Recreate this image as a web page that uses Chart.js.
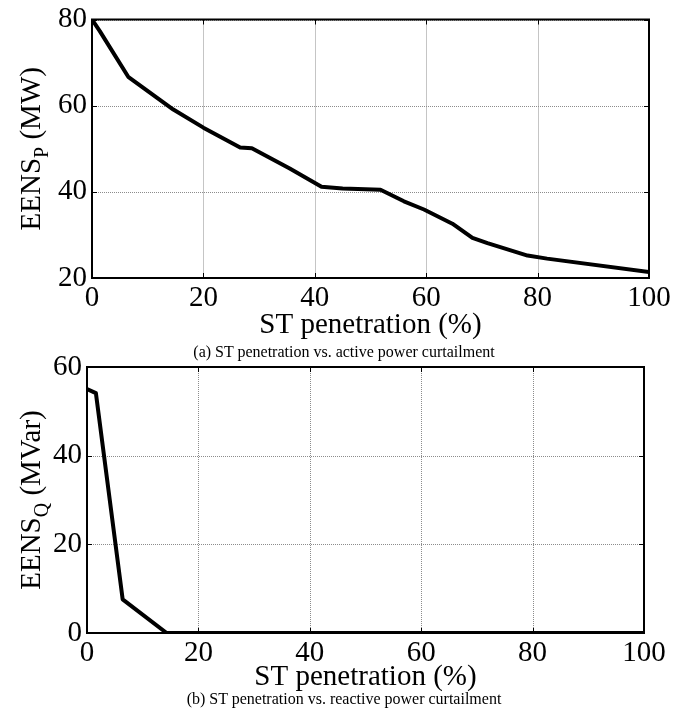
<!DOCTYPE html>
<html>
<head>
<meta charset="utf-8">
<script src="https://cdn.jsdelivr.net/npm/chart.js@4"></script>
<style>
  body { margin: 0; background: #fff; width: 688px; height: 713px; position: relative; overflow: hidden; font-family: "Liberation Serif", "Times New Roman", serif; }
  .box { position: absolute; left: 0; width: 688px; }
  .cap { position: absolute; left: 0; width: 688px; text-align: center; font-size: 16px; line-height: 16px; color: #000; }
</style>
</head>
<body>
<div class="box" style="top:0;height:340px"><canvas id="chartP"></canvas></div>
<div class="box" style="top:340px;height:373px"><canvas id="chartQ"></canvas></div>
<div class="cap" style="top:344px">(a) ST penetration vs. active power curtailment</div>
<div class="cap" style="top:691px">(b) ST penetration vs. reactive power curtailment</div>
<script>
// values
var penetrationP = [0, 1.4, 6.5, 14.6, 20, 26.6, 28.7, 35.5, 41.2, 45, 51.8, 56, 59.6, 64.7, 68.3, 71, 78.2, 81.7, 100];
var eensP = [80, 77.3, 66.7, 59.1, 54.9, 50.3, 50.1, 45.4, 41.2, 40.8, 40.5, 37.8, 35.9, 32.6, 29.3, 28.1, 25.2, 24.5, 21.4];
var penetrationQ = [0, 1.6, 6.4, 14.3, 100];
var eensQ = [55, 54.1, 7.6, 0, 0];
var xTicks = [0, 20, 40, 60, 80, 100];
var yTicksP = [20, 40, 60, 80];
var yTicksQ = [0, 20, 40, 60];

var serif = "'Liberation Serif', 'Times New Roman', serif";
var bigFont = { family: serif, size: 29, lineHeight: 1 };

// matlab style box, dotted grid, inward ticks, y title with subscript
var framePlugin = {
  id: "frame",
  beforeDatasetsDraw: function (chart) {
    var ctx = chart.ctx, a = chart.chartArea;
    var sx = chart.scales.x, sy = chart.scales.y;
    ctx.save();
    ctx.strokeStyle = "#8c8c8c";
    ctx.lineWidth = 1;
    ctx.setLineDash([1, 1]);
    sx.ticks.forEach(function (t) {
      var px = Math.round(sx.getPixelForValue(t.value)) + 0.5;
      ctx.beginPath(); ctx.moveTo(px, a.top); ctx.lineTo(px, a.bottom); ctx.stroke();
    });
    sy.ticks.forEach(function (t) {
      var py = Math.round(sy.getPixelForValue(t.value)) + 0.5;
      ctx.beginPath(); ctx.moveTo(a.left, py); ctx.lineTo(a.right, py); ctx.stroke();
    });
    ctx.restore();
  },
  afterDatasetsDraw: function (chart) {
    var ctx = chart.ctx, a = chart.chartArea;
    var sx = chart.scales.x, sy = chart.scales.y;
    var o = chart.options.plugins.frame;
    ctx.save();
    ctx.strokeStyle = "#000";
    ctx.lineWidth = 1;
    var tl = 5;
    sx.ticks.forEach(function (t) {
      var px = Math.round(sx.getPixelForValue(t.value)) + 0.5;
      ctx.beginPath(); ctx.moveTo(px, a.bottom); ctx.lineTo(px, a.bottom - tl);
      ctx.moveTo(px, a.top); ctx.lineTo(px, a.top + tl); ctx.stroke();
    });
    sy.ticks.forEach(function (t) {
      var py = Math.round(sy.getPixelForValue(t.value)) + 0.5;
      ctx.beginPath(); ctx.moveTo(a.left, py); ctx.lineTo(a.left + tl, py);
      ctx.moveTo(a.right, py); ctx.lineTo(a.right - tl, py); ctx.stroke();
    });
    ctx.lineWidth = 2;
    ctx.strokeRect(a.left, a.top, a.right - a.left, a.bottom - a.top);

    // y axis title
    ctx.translate(o.titleX, (a.top + a.bottom) / 2);
    ctx.rotate(-Math.PI / 2);
    ctx.fillStyle = "#000";
    ctx.textAlign = "left";
    ctx.textBaseline = "alphabetic";
    var big = "29px " + serif, small = "20px " + serif;
    var tail = " (" + o.unit + ")";
    ctx.font = big;
    var w1 = ctx.measureText("EENS").width, w3 = ctx.measureText(tail).width;
    ctx.font = small;
    var w2 = ctx.measureText(o.sub).width;
    var x0 = -(w1 + w2 + w3) / 2;
    ctx.font = big; ctx.fillText("EENS", x0, 0);
    ctx.font = small; ctx.fillText(o.sub, x0 + w1, 8);
    ctx.font = big; ctx.fillText(tail, x0 + w1 + w2, 0);
    ctx.restore();
  }
};

function makeChart(id, xs, ys, yTicks, dims) {
  var points = xs.map(function (x, i) { return { x: x, y: ys[i] }; });
  var ctx = document.getElementById(id).getContext("2d");
  return new Chart(ctx, {
    type: "line",
    data: {
      datasets: [{
        data: points,
        borderColor: "#000",
        borderWidth: 4,
        pointRadius: 0,
        tension: 0,
        fill: false,
        borderJoinStyle: "round"
      }]
    },
    options: {
      responsive: true,
      maintainAspectRatio: false,
      animation: false,
      layout: { padding: { top: dims.top, right: dims.right, left: 0, bottom: 0 } },
      plugins: {
        legend: { display: false },
        tooltip: { enabled: false },
        frame: { titleX: dims.titleX, sub: dims.sub, unit: dims.unit }
      },
      scales: {
        x: {
          type: "linear",
          min: 0,
          max: 100,
          afterBuildTicks: function (s) { s.ticks = xTicks.map(function (v) { return { value: v }; }); },
          afterFit: function (s) { s.height = dims.xh; },
          grid: { display: false, drawTicks: false },
          border: { display: false },
          ticks: { color: "#000", font: bigFont, padding: 5.5, maxRotation: 0, autoSkip: false },
          title: { display: true, text: "ST penetration (%)", color: "#000", font: bigFont, padding: { top: 0, bottom: dims.titlePad } }
        },
        y: {
          min: yTicks[0],
          max: yTicks[yTicks.length - 1],
          afterBuildTicks: function (s) { s.ticks = yTicks.map(function (v) { return { value: v }; }); },
          afterFit: function (s) { s.width = dims.left; },
          grid: { display: false, drawTicks: false },
          border: { display: false },
          ticks: { color: "#000", font: bigFont, padding: 5 }
        }
      }
    },
    plugins: [framePlugin]
  });
}

makeChart("chartP", penetrationP, eensP, yTicksP, { top: 15, right: 39, left: 92, xh: 62, titlePad: 0.5, titleX: 40, sub: "P", unit: "MW" });
makeChart("chartQ", penetrationQ, eensQ, yTicksQ, { top: 27, right: 44, left: 87, xh: 80, titlePad: 21.5, titleX: 40, sub: "Q", unit: "MVar" });
</script>
</body>
</html>
